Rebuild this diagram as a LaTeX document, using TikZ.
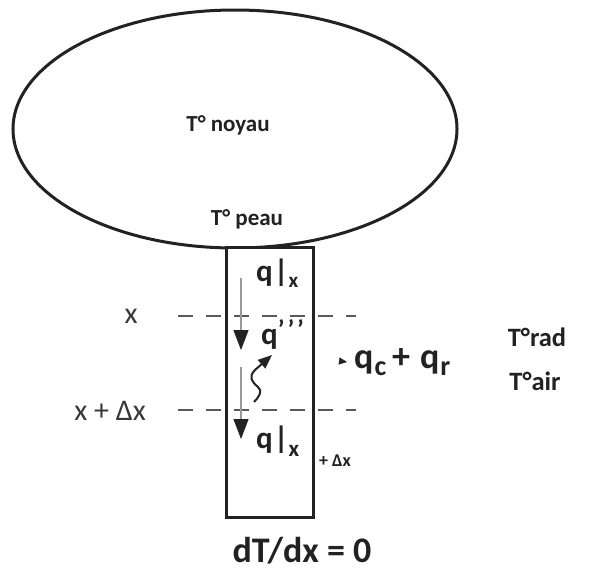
\documentclass[tikz,border=0pt]{standalone}
\usepackage{fontspec}
\setmainfont{Carlito}
\usetikzlibrary{shapes.geometric,arrows.meta}
\definecolor{ink}{HTML}{222222}
\tikzset{
  outline/.style={draw=ink, line width=3pt},
  boldlbl/.style={font=\bfseries\fontsize{23}{25}\selectfont, inner sep=0pt, text=ink},
  sidelbl/.style={font=\bfseries\fontsize{26.5}{28}\selectfont, inner sep=0pt, text=ink},
  qlbl/.style={font=\bfseries\fontsize{31}{33}\selectfont, inner sep=0pt, text=ink},
  poslbl/.style={font=\fontsize{30}{32}\selectfont, inner sep=0pt, text=ink!90},
  dashline/.style={draw=black!65, line width=2.8pt, dash pattern=on 15pt off 13pt},
  flow/.style={draw=black!40, line width=1.2pt, -{Triangle[length=20pt,width=15pt,fill=ink,color=ink]}},
  wave/.style={draw=ink, line width=2pt, -{Triangle[length=14pt,width=11pt,fill=ink,color=ink]}}
}
\newcommand{\qsub}[1]{\raisebox{-7pt}{\fontsize{28}{28}\selectfont #1}}
\begin{document}
\begin{tikzpicture}[x=1pt,y=-1pt]
\useasboundingbox[fill=white] (0,0) rectangle (596,570);
% body and limb
\node[outline, ellipse, minimum width=444pt, minimum height=238pt, inner sep=0pt] (body) at (235,129) {};
\node[outline, rectangle, minimum width=87pt, minimum height=270pt, inner sep=0pt, fill=white] (limb) at (269.5,382) {};
% dashed levels
\coordinate (xa) at (178,316);
\coordinate (xb) at (356,316);
\coordinate (dxa) at (178,410);
\coordinate (dxb) at (356,410);
\draw[dashline] (xa) -- (xb);
\draw[dashline] (dxa) -- (dxb);
% labels
\node[boldlbl] (noyau) at (228,125) {T° noyau};
\node[boldlbl] (peau) at (247,219) {T° peau};
\node[poslbl] (xlbl) at (131,316) {x};
\node[poslbl, anchor=east] (dxlbl) at (146,411) {x + Δx};
\node[qlbl, anchor=base west] (qtop) at (256,281) {q\kern1pt|\raisebox{-6pt}{\fontsize{21}{21}\selectfont x}};
\node[qlbl, anchor=base west] (qgen) at (261,344) {q\raisebox{6pt}{\fontsize{26}{26}\selectfont ’\kern3pt’\kern3pt’}};
\node[qlbl, anchor=base west] (qbot) at (256,448) {q\kern1pt|\raisebox{-8pt}{\fontsize{23}{23}\selectfont x}};
\node[boldlbl, font=\bfseries\fontsize{18}{19}\selectfont, anchor=base west] (qbotdx) at (319,466) {+ Δx};
\node[qlbl, font=\bfseries\fontsize{36}{38}\selectfont, anchor=base west] (qcr) at (354,368) {q\kern1pt\qsub{c}\hspace{6pt}+\hspace{10pt}q\kern1pt\qsub{r}};
\node[sidelbl] (trad) at (537,337) {T°rad};
\node[sidelbl] (tair) at (535,381) {T°air};
\node[qlbl, font=\bfseries\fontsize{36}{38}\selectfont, anchor=base] (bc) at (302,562) {dT/dx = 0};
% flows
\coordinate (f1a) at (241,278);
\coordinate (f1b) at (241,350);
\coordinate (f2a) at (241,367);
\coordinate (f2b) at (241,439);
\draw[flow] (f1a) -- (f1b);
\draw[flow] (f2a) -- (f2b);
\coordinate (wa) at (254,402);
\coordinate (wb) at (272,355);
\draw[wave] (wa) .. controls (259,397) and (263,391) .. (258,387) .. controls (252,382) and (248,377) .. (255,370) -- (wb);
\coordinate (ca) at (339,361);
\coordinate (cb) at (347,362);
\draw[draw=ink, line width=0.4pt, -{Triangle[length=8pt,width=7pt,fill=ink,color=ink]}] (ca) -- (cb);
\end{tikzpicture}
\end{document}
